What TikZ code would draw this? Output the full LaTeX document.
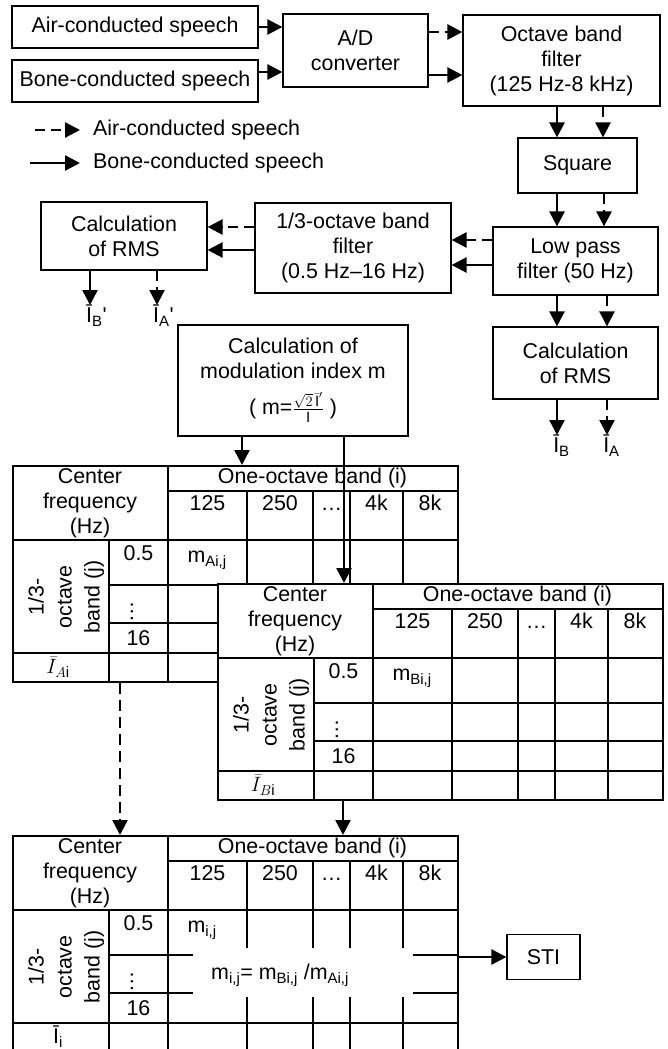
\documentclass[tikz,border=0pt]{standalone}
\usepackage{amsmath}
\usepackage{fontspec}
\setmainfont{Liberation Sans}
\usetikzlibrary{arrows.meta}

\begin{document}
\begin{tikzpicture}[
    x=1pt, y=-1pt,
    font=\fontsize{21.4}{25}\selectfont,
    box/.style={draw, line width=1.2pt, align=center, inner sep=0pt},
    sarrow/.style={line width=2.5pt, -{Triangle[length=15pt, width=15pt]}},
    darrow/.style={sarrow, dash pattern=on 10pt off 6pt},
    tabline/.style={line width=2.2pt},
    tabframe/.style={draw, line width=2.2pt, fill=white, anchor=north west, minimum width=445pt, minimum height=216pt, inner sep=0pt},
    lbl/.style={inner sep=0pt}
]
\useasboundingbox (0,0) rectangle (668,1049);

% Inputs and A/D
\node[box, minimum width=246pt, minimum height=42pt] (air) at (135,27) {Air-conducted speech};
\node[box, minimum width=246pt, minimum height=42pt] (bone) at (135,81) {Bone-conducted speech};
\node[box, minimum width=145pt, minimum height=73pt] (ad) at (355.5,50.5) {A/D\\converter};
\node[box, minimum width=197pt, minimum height=91pt] (oct) at (561.5,60.5) {Octave band\\filter\\(125 Hz-8 kHz)};

\draw[sarrow] (air.east) -- (air.east -| ad.west);
\draw[sarrow] ([yshift=9pt]bone.east) -- ([yshift=9pt]bone.east -| ad.west);
\draw[darrow] ([yshift=18.5pt]ad.east) -- ([yshift=18.5pt]ad.east -| oct.west);
\draw[sarrow] ([yshift=-24.5pt]ad.east) -- ([yshift=-24.5pt]ad.east -| oct.west);

% Legend
\node[lbl, anchor=west] (legair) at (93,130) {Air-conducted speech};
\node[lbl, anchor=west] (legbone) at (93,163) {Bone-conducted speech};
\draw[darrow] ([xshift=-58pt]legair.west) -- ([xshift=-13pt]legair.west);
\draw[sarrow] ([xshift=-63pt]legbone.west) -- ([xshift=-13pt]legbone.west);

% Square and low pass
\node[box, minimum width=119pt, minimum height=55pt] (sq) at (577.5,165.5) {Square};
\node[box, minimum width=165pt, minimum height=68pt] (lp) at (575.5,261) {Low pass\\filter (50 Hz)};
\node[box, minimum width=196pt, minimum height=90pt] (third) at (353,248) {1/3-octave band\\filter\\(0.5 Hz--16 Hz)};
\node[box, minimum width=166pt, minimum height=68pt] (calcL) at (124,236) {Calculation\\of RMS};
\node[box, minimum width=165pt, minimum height=72pt] (calcR) at (575.5,363) {Calculation\\of RMS};

\draw[sarrow] ([xshift=-20.5pt]sq.north |- oct.south) -- ([xshift=-20.5pt]sq.north);
\draw[darrow] ([xshift=25.5pt]sq.north |- oct.south) -- ([xshift=25.5pt]sq.north);
\draw[sarrow] ([xshift=-20.5pt]sq.south) -- ([xshift=-20.5pt]sq.south |- lp.north);
\draw[darrow] ([xshift=26.5pt]sq.south) -- ([xshift=26.5pt]sq.south |- lp.north);

\draw[darrow] ([yshift=21pt]lp.west) -- ([yshift=21pt]lp.west -| third.east);
\draw[sarrow] ([yshift=-4pt]lp.west) -- ([yshift=-4pt]lp.west -| third.east);
\draw[darrow] ([yshift=21pt]third.west) -- ([yshift=21pt]third.west -| calcL.east);
\draw[sarrow] ([yshift=-2pt]third.west) -- ([yshift=-2pt]third.west -| calcL.east);

\draw[sarrow] ([xshift=-18.5pt]calcR.north |- lp.south) -- ([xshift=-18.5pt]calcR.north);
\draw[darrow] ([xshift=31.5pt]calcR.north |- lp.south) -- ([xshift=31.5pt]calcR.north);

% RMS outputs
\node[lbl, anchor=north] (ibl) at (96.5,305) {Ī\textsubscript{B}\textquotesingle};
\node[lbl, anchor=north] (ial) at (163.5,305) {Ī\textsubscript{A}\textquotesingle};
\draw[sarrow] ([xshift=-34pt]calcL.south) -- ([xshift=-34pt]calcL.south |- ibl.north);
\draw[darrow] ([xshift=33pt]calcL.south) -- ([xshift=33pt]calcL.south |- ial.north);

\node[lbl, anchor=north] (ibr) at (561.5,435) {Ī\textsubscript{B}};
\node[lbl, anchor=north] (iar) at (611.5,435) {Ī\textsubscript{A}};
\draw[sarrow] ([xshift=-18.5pt]calcR.south) -- ([xshift=-18.5pt]calcR.south |- ibr.north);
\draw[darrow] ([xshift=31.5pt]calcR.south) -- ([xshift=31.5pt]calcR.south |- iar.north);

% Modulation index
\node[box, minimum width=230pt, minimum height=111pt] (mod) at (293,380.5)
    {Calculation of\\modulation index $\mathrm{m}$\\[11pt]( m=$\frac{\sqrt{2}\,\bar{\text{I}}'}{\bar{\text{I}}}$ )};

% Tables
\foreach \tab/\tx/\ty/\mij/\ibar in {
    tabA/12/465/{m\textsubscript{Ai,j}}/{$\bar{I}_{A\mathrm{i}}$},
    tabB/217/583/{m\textsubscript{Bi,j}}/{$\bar{I}_{B\mathrm{i}}$},
    tabC/12/835/{m\textsubscript{i,j}}/{Ī\textsubscript{i}}} {
  \node[tabframe] (\tab) at (\tx,\ty) {};
  \begin{scope}[shift={(\tx,\ty)}]
    \draw[tabline] (156,0) -- (156,216) (97,75) -- (97,216)
      (156,26) -- (445,26) (0,75) -- (445,75) (97,120) -- (445,120)
      (97,158) -- (445,158) (0,188) -- (445,188);
    \foreach \cx in {235,301,338,391}
      \draw[tabline] (\cx,26) -- (\cx,216);
    \node[align=center] at (78,38) {Center\\frequency\\(Hz)};
    \node at (300.5,13) {One-octave band (i)};
    \node at (195.5,38) {125};
    \node at (268,38) {250};
    \node[anchor=base] at (319.5,45.5) {\dots};
    \node at (364.5,38) {4k};
    \node at (418,38) {8k};
    \node[rotate=90, align=center, font=\fontsize{21.4}{28}\selectfont] at (54,132) {1/3-\\octave\\band (j)};
    \node at (126.5,88) {0.5};
    \node[rotate=90] at (120,147) {\dots};
    \node at (126.5,173) {16};
    \node[anchor=west] at (172,95) {\mij};
    \node at (46,202) {\ibar};
  \end{scope}
}

\draw[sarrow] ([xshift=-51pt]mod.south) -- ([xshift=-51pt]mod.south |- tabA.north);
\draw[sarrow] ([xshift=51pt]mod.south) -- ([xshift=51pt]mod.south |- tabB.north);
\draw[darrow, dash pattern=on 11pt off 6pt] ([xshift=108pt]tabA.south west) -- ([xshift=108pt]tabA.south west |- tabC.north);
\draw[sarrow] ([xshift=126pt]tabB.south west) -- ([xshift=126pt]tabB.south west |- tabC.north);

% Ratio and STI
\node[fill=white, minimum width=220pt, minimum height=49pt, inner sep=0pt] (ratio) at (303,972.5) {};
\node[lbl, anchor=west] (ratiotxt) at (211,975) {m\textsubscript{i,j}= m\textsubscript{Bi,j} /m\textsubscript{Ai,j}};
\node[box, minimum width=73pt, minimum height=45pt] (sti) at (543.5,957) {STI};
\draw[sarrow] (sti.west -| tabC.east) -- (sti.west);

\end{tikzpicture}
\end{document}
